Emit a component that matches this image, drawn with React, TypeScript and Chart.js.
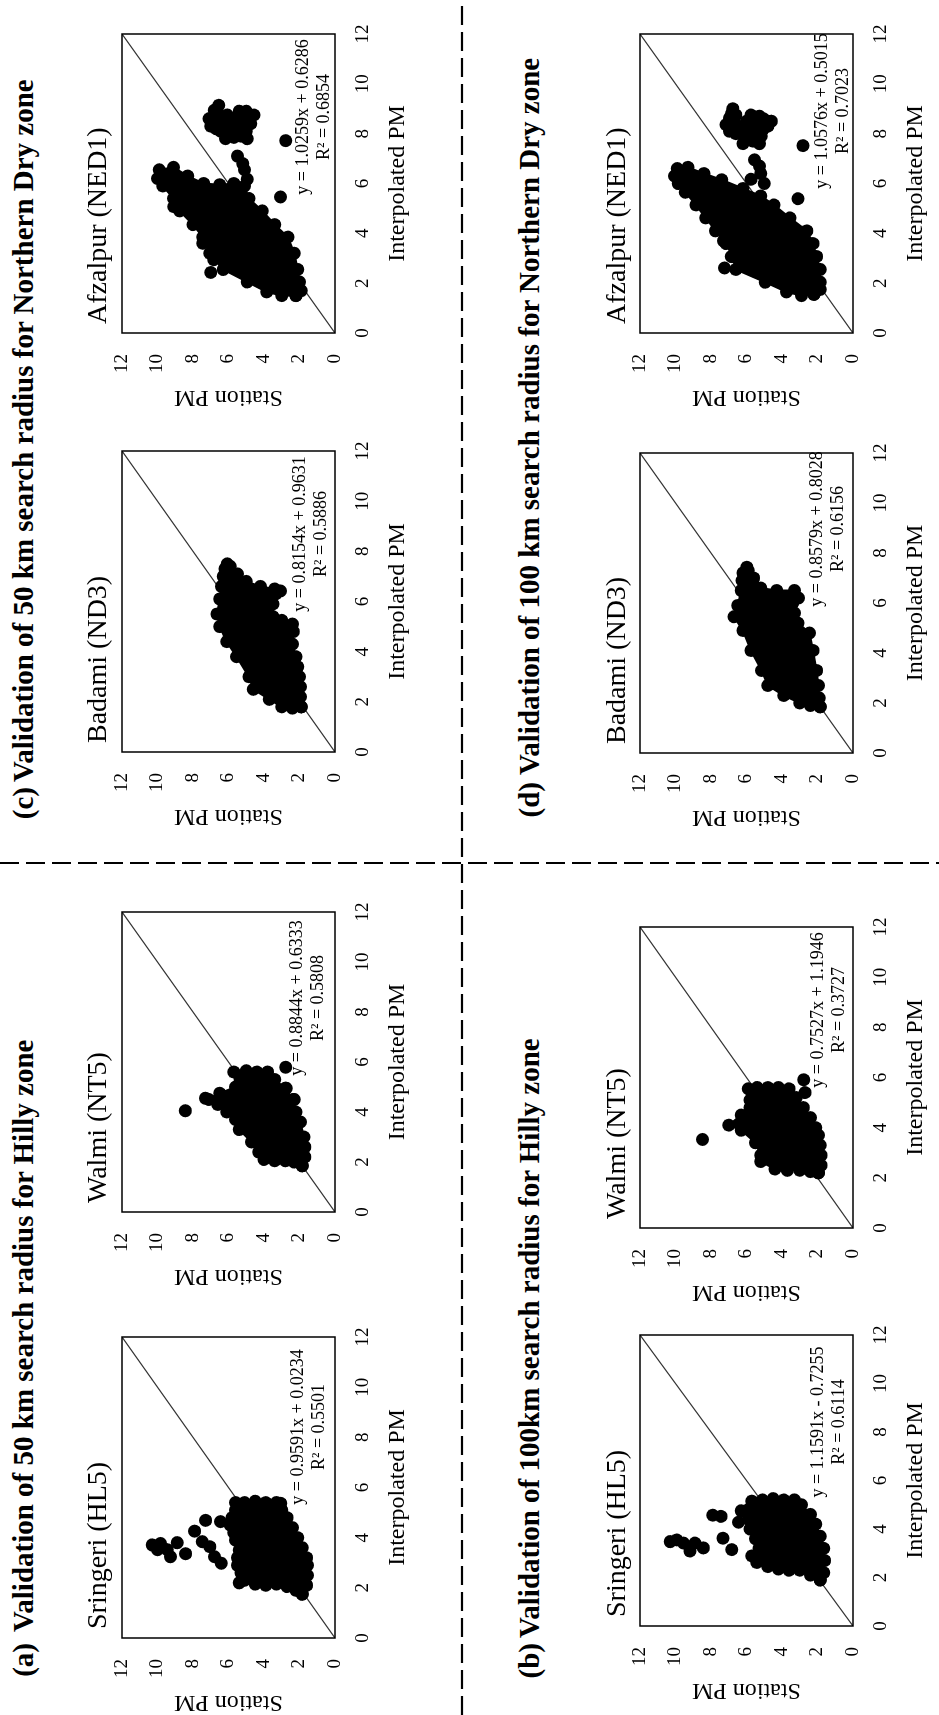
import React, { useEffect, useRef } from "react";
import { Chart, registerables } from "chart.js";

Chart.register(...registerables);

const FONT = '"Liberation Serif", "Times New Roman", serif';

// ---------- data ----------
const tickValues = [0, 2, 4, 6, 8, 10, 12];
const xAxisTitle = "Interpolated PM";
const yAxisTitle = "Station PM";
const oneToOneLine = [[0, 0], [12, 12]];

// (a) 50 km – Sringeri (HL5)
const sringeri50Outline = [[1.75,1.85],[2.1,1.6],[2.5,1.55],[2.9,1.55],[3.2,1.6],[3.6,1.85],[4.0,2.1],[4.4,2.4],[4.8,2.7],[5.1,3.0],[5.4,3.3],[5.4,3.9],[5.45,4.5],[5.4,5.1],[5.4,5.6],[5.1,5.6],[4.8,5.8],[4.5,5.9],[4.2,5.7],[3.9,5.6],[3.5,5.4],[3.2,5.5],[2.9,5.5],[2.6,5.3],[2.3,5.1],[2.15,4.5],[2.1,3.9],[2.15,3.3],[2.05,2.7],[1.9,2.2]];
const sringeri50Points = [[3.71,10.3],[3.52,10.0],[3.77,9.83],[3.52,9.45],[3.24,9.27],[3.8,8.89],[3.36,8.42],[4.26,7.91],[3.84,7.48],[4.69,7.29],[3.64,7.05],[3.24,6.79],[4.64,6.45],[2.98,6.41],[2.2,5.4],[5.37,3.06]];

// (a) 50 km – Walmi (NT5)
const walmi50Outline = [[1.85,1.85],[2.2,1.7],[2.6,1.7],[3.0,1.75],[3.6,1.95],[4.0,2.2],[4.5,2.35],[4.95,2.8],[5.3,3.4],[5.6,3.8],[5.6,4.4],[5.65,5.0],[5.6,5.7],[5.0,5.6],[4.75,6.5],[4.5,7.1],[4.3,6.6],[4.0,6.1],[3.7,5.6],[3.3,5.4],[2.8,4.7],[2.4,4.3],[2.1,4.0],[2.05,3.4],[2.05,2.8],[2.0,2.3]];
const walmi50Points = [[4.05,8.43],[5.79,2.78],[4.5,2.3],[4.95,2.75],[4.55,7.3]];

// (b) 100 km – Sringeri (HL5)
const sringeri100Outline = [[1.9,1.85],[2.2,1.65],[2.7,1.6],[3.2,1.65],[3.7,1.85],[4.2,2.1],[4.6,2.4],[5.0,2.9],[5.2,3.3],[5.2,3.9],[5.25,4.5],[5.2,5.1],[5.15,5.7],[4.8,5.9],[4.4,5.9],[4.0,5.8],[3.6,5.5],[3.2,5.3],[2.8,5.1],[2.45,4.8],[2.35,4.2],[2.3,3.6],[2.3,3.0],[2.1,2.4]];
const sringeri100Points = [[3.48,10.3],[3.55,9.93],[3.42,9.55],[3.09,9.19],[3.42,8.9],[3.22,8.43],[4.57,7.9],[4.52,7.43],[3.62,7.33],[3.15,6.83],[4.28,6.45],[2.89,5.7],[2.62,5.42],[4.75,6.3]];

// (b) 100 km – Walmi (NT5)
const walmi100Outline = [[2.2,1.95],[2.5,1.8],[2.9,1.8],[3.3,1.85],[3.7,1.95],[4.0,2.1],[4.4,2.4],[4.8,2.8],[5.2,3.2],[5.55,3.6],[5.6,4.2],[5.6,4.8],[5.6,5.4],[5.55,5.9],[5.1,5.8],[4.8,5.8],[4.5,6.3],[4.1,7.0],[3.9,6.3],[3.4,5.5],[2.9,5.2],[2.65,5.2],[2.35,4.4],[2.3,3.7],[2.3,3.0],[2.25,2.4]];
const walmi100Points = [[3.53,8.48],[5.91,2.78],[5.4,2.7]];

// (c) 50 km – Badami (ND3)
const badami50Outline = [[1.8,1.9],[2.2,1.95],[2.6,1.95],[3.0,2.0],[3.4,2.1],[3.8,2.2],[4.3,2.4],[4.8,2.35],[5.1,2.4],[5.25,3.0],[5.4,3.5],[5.9,3.5],[6.3,3.35],[6.5,3.4],[6.6,4.2],[6.8,5.0],[7.1,5.5],[7.4,5.9],[7.3,6.2],[7.0,6.3],[6.6,6.4],[6.1,6.5],[5.5,6.65],[5.0,6.5],[4.4,6.1],[3.8,5.55],[3.0,4.85],[2.5,4.6],[2.1,3.7],[1.8,3.0],[1.75,2.4]];
const badami50Points = [[6.42,3.07],[7.5,6.07]];

// (c) 50 km – Afzalpur (NED1)
const afzalpur50Outline = [[1.5,2.2],[1.7,1.9],[2.05,2.0],[2.55,2.1],[3.2,2.3],[3.85,2.65],[4.35,3.4],[4.9,4.1],[5.4,4.85],[5.9,5.1],[6.0,5.7],[5.95,6.5],[6.0,7.4],[6.3,8.3],[6.65,9.1],[6.55,9.9],[6.2,10.0],[5.9,9.7],[5.4,9.1],[4.9,8.75],[4.35,8.0],[3.85,7.45],[3.2,7.05],[2.55,6.3],[2.05,4.95],[1.65,3.85],[1.5,3.0]];
const afzalpur50Points = [[2.43,7.0],[2.94,6.83],[3.6,7.45],[5.07,9.08],[6.17,4.95],[5.46,3.07],[7.72,2.78],[7.1,5.5],[6.8,5.2],[6.55,5.1],[9.14,6.55],[8.94,6.8],[8.6,7.1],[8.3,7.0],[8.4,6.6],[8.1,6.45],[7.8,6.17],[7.85,5.7],[7.9,5.3],[7.8,4.95],[8.1,5.0],[8.4,5.4],[8.6,5.7],[8.35,5.9],[8.8,5.2],[8.6,4.85],[8.75,4.57],[8.9,5.0],[8.75,6.07],[8.8,6.6],[8.5,6.85],[8.2,6.7],[8.5,6.3],[8.05,6.0],[8.2,5.6],[8.0,5.45],[8.3,5.2],[8.5,5.1],[8.7,5.5],[8.9,5.4],[8.4,4.75],[8.6,5.25],[8.2,5.85],[8.55,6.05]];

// (d) 100 km – Badami (ND3)
const badami100Outline = [[1.85,1.85],[2.2,1.9],[2.7,1.95],[3.3,2.05],[4.1,2.25],[4.8,2.45],[5.2,3.1],[5.6,3.3],[6.0,3.4],[6.2,3.07],[6.5,3.3],[6.5,4.3],[6.6,5.2],[7.0,5.6],[7.3,5.9],[7.2,6.2],[6.9,6.25],[6.5,6.3],[5.9,6.5],[5.45,6.7],[4.9,6.2],[4.1,5.75],[3.3,5.15],[2.7,4.8],[2.3,3.9],[2.0,3.0],[1.9,2.4]];
const badami100Points = [[7.43,5.98]];

// (d) 100 km – Afzalpur (NED1)
const afzalpur100Outline = [[1.55,2.2],[1.75,1.85],[2.04,1.85],[2.55,1.85],[3.07,2.05],[3.59,2.25],[4.1,2.6],[4.62,3.55],[5.14,4.45],[5.5,5.2],[5.8,6.2],[6.15,7.4],[6.4,8.4],[6.65,9.3],[6.6,9.9],[6.3,10.05],[6.0,9.85],[5.65,9.45],[5.14,8.85],[4.62,8.3],[4.1,7.75],[3.59,7.15],[3.07,6.8],[2.55,6.6],[2.04,4.95],[1.65,3.75],[1.5,2.9]];
const afzalpur100Points = [[7.52,2.82],[6.95,5.55],[6.7,5.27],[6.4,5.2],[6.0,5.0],[5.39,3.1],[6.17,5.74],[9.0,6.77],[8.62,6.96],[8.36,7.15],[8.1,6.96],[8.23,6.4],[7.9,6.1],[7.6,6.2],[7.7,5.64],[7.6,5.27],[7.9,5.17],[8.17,5.08],[8.5,4.8],[8.5,4.6],[8.55,5.45],[8.75,5.74],[8.7,5.27],[8.5,6.0],[8.75,6.6],[2.61,7.24],[3.07,6.86],[3.7,7.3],[8.8,6.85],[8.5,6.7],[8.3,6.75],[8.0,6.6],[8.05,5.9],[7.8,5.4],[8.1,5.45],[8.3,5.6],[8.35,5.0],[8.3,4.8],[8.6,5.05],[8.3,6.2],[7.85,5.8]];

// regression labels
const sringeri50Eq = ["y = 0.9591x + 0.0234", "R\u00B2 = 0.5501"];
const walmi50Eq = ["y = 0.8844x + 0.6333", "R\u00B2 = 0.5808"];
const sringeri100Eq = ["y = 1.1591x - 0.7255", "R\u00B2 = 0.6114"];
const walmi100Eq = ["y = 0.7527x + 1.1946", "R\u00B2 = 0.3727"];
const badami50Eq = ["y = 0.8154x + 0.9631", "R\u00B2 = 0.5886"];
const afzalpur50Eq = ["y = 1.0259x + 0.6286", "R\u00B2 = 0.6854"];
const badami100Eq = ["y = 0.8579x + 0.8028", "R\u00B2 = 0.6156"];
const afzalpur100Eq = ["y = 1.0576x + 0.5015", "R\u00B2 = 0.7023"];

const headings = [
  { label: "(a)", text: "Validation of 50 km search radius for Hilly zone" },
  { label: "(b)", text: "Validation of 100km search radius for Hilly zone" },
  { label: "(c)", text: "Validation of 50 km search radius for Northern Dry zone" },
  { label: "(d)", text: "Validation of 100 km search radius for Northern Dry zone" },
];

// ---------- layout (unrotated figure, 1715 x 939) ----------
const FIG_W = 1715;
const FIG_H = 939;
const PLOT_H = 213;
const PAD_L = 90;
const PAD_T = 50;
const PAD_R = 15;
const X_AXIS_H = 85;

const panels = [
  { title: "Sringeri (HL5)", eq: sringeri50Eq, outline: sringeri50Outline, points: sringeri50Points, u: 77, v: 122, w: 312, eqX: 211, eqY: 181, titleY: -16 },
  { title: "Walmi (NT5)", eq: walmi50Eq, outline: walmi50Outline, points: walmi50Points, u: 503, v: 122, w: 311, eqX: 214, eqY: 180, titleY: -16 },
  { title: "Sringeri (HL5)", eq: sringeri100Eq, outline: sringeri100Outline, points: sringeri100Points, u: 89, v: 640, w: 302, eqX: 204, eqY: 183, titleY: -15 },
  { title: "Walmi (NT5)", eq: walmi100Eq, outline: walmi100Outline, points: walmi100Points, u: 487, v: 640, w: 312, eqX: 218, eqY: 183, titleY: -15 },
  { title: "Badami (ND3)", eq: badami50Eq, outline: badami50Outline, points: badami50Points, u: 963, v: 122, w: 312, eqX: 218, eqY: 183, titleY: -16 },
  { title: "Afzalpur (NED1)", eq: afzalpur50Eq, outline: afzalpur50Outline, points: afzalpur50Points, u: 1382, v: 122, w: 310, eqX: 216, eqY: 186, titleY: -16 },
  { title: "Badami (ND3)", eq: badami100Eq, outline: badami100Outline, points: badami100Points, u: 962, v: 640, w: 311, eqX: 224, eqY: 182, titleY: -15 },
  { title: "Afzalpur (NED1)", eq: afzalpur100Eq, outline: afzalpur100Outline, points: afzalpur100Points, u: 1382, v: 640, w: 310, eqX: 222, eqY: 187, titleY: -15 },
];

const headingPos = [
  { labelEnd: 72, textStart: 83, top: 6 },
  { labelEnd: 72, textStart: 77, top: 512 },
  { labelEnd: 928, textStart: 933, top: 6 },
  { labelEnd: 933, textStart: 940, top: 512 },
];

const toXY = (arr: number[][]) => arr.map(([x, y]) => ({ x, y }));

function Panel({ cfg }: { cfg: any }) {
  const ref = useRef<HTMLCanvasElement>(null);
  const cw = PAD_L + cfg.w + PAD_R;
  const ch = PAD_T + PLOT_H + X_AXIS_H;

  useEffect(() => {
    const deco = {
      id: "panelDeco",
      afterDraw(chart: any) {
        const { ctx, chartArea: a } = chart;
        ctx.save();
        ctx.strokeStyle = "#000";
        ctx.lineWidth = 1.5;
        ctx.strokeRect(a.left, a.top, a.right - a.left, a.bottom - a.top);
        ctx.fillStyle = "#000";
        ctx.textBaseline = "alphabetic";
        ctx.textAlign = "left";
        ctx.font = `28px ${FONT}`;
        ctx.fillText(cfg.title, a.left + 9, a.top + cfg.titleY);
        ctx.textAlign = "center";
        ctx.font = `18px ${FONT}`;
        ctx.fillText(cfg.eq[0], a.left + cfg.eqX, a.top + cfg.eqY);
        ctx.fillText(cfg.eq[1], a.left + cfg.eqX, a.top + cfg.eqY + 21);
        ctx.restore();
      },
    };
    const outline = toXY(cfg.outline);
    outline.push(outline[0]);
    const chart = new Chart(ref.current!, {
      type: "scatter",
      data: {
        datasets: [
          {
            data: toXY(cfg.points),
            pointRadius: 6.5,
            pointBackgroundColor: "#000",
            pointBorderWidth: 0,
            showLine: false,
          },
          {
            data: outline,
            showLine: true,
            fill: "shape",
            backgroundColor: "#000",
            borderColor: "#000",
            borderWidth: 2,
            tension: 0,
            pointRadius: 6.5,
            pointBackgroundColor: "#000",
            pointBorderWidth: 0,
          },
          {
            data: toXY(oneToOneLine),
            showLine: true,
            fill: false,
            borderColor: "#333",
            borderWidth: 1.2,
            pointRadius: 0,
          },
        ],
      } as any,
      options: {
        responsive: false,
        animation: false,
        devicePixelRatio: 1,
        events: [],
        layout: { padding: { left: 0, top: PAD_T, right: PAD_R, bottom: 0 } },
        plugins: { legend: { display: false }, tooltip: { enabled: false }, title: { display: false } },
        scales: {
          x: {
            type: "linear",
            min: 0,
            max: 12,
            afterFit: (s: any) => { s.height = X_AXIS_H; },
            afterBuildTicks: (s: any) => { s.ticks = tickValues.map((v) => ({ value: v })); },
            ticks: { font: { family: FONT, size: 19 }, color: "#000", padding: 16.5, maxRotation: 0, autoSkip: false },
            grid: { display: false, drawTicks: false },
            border: { display: false },
            title: { display: true, text: xAxisTitle, color: "#000", font: { family: FONT, size: 24 }, padding: { top: 0, bottom: 7.6 } },
          },
          y: {
            type: "linear",
            min: 0,
            max: 12,
            afterFit: (s: any) => { s.width = PAD_L; },
            afterBuildTicks: (s: any) => { s.ticks = tickValues.map((v) => ({ value: v })); },
            ticks: { font: { family: FONT, size: 19 }, color: "#000", padding: 21, autoSkip: false },
            grid: { display: false, drawTicks: false },
            border: { display: false },
            title: { display: true, text: yAxisTitle, color: "#000", font: { family: FONT, size: 24 }, padding: { top: 11.6, bottom: 0 } },
          },
        },
      } as any,
      plugins: [deco],
    });
    return () => chart.destroy();
  }, []);

  return (
    <canvas
      ref={ref}
      width={cw}
      height={ch}
      style={{ position: "absolute", left: cfg.u - PAD_L, top: cfg.v - PAD_T, width: cw, height: ch }}
    />
  );
}

export default function App() {
  return (
    <div style={{ position: "absolute", left: 0, top: 0, width: 939, height: 1715, overflow: "hidden", background: "#fff" }}>
      <div
        style={{
          position: "absolute",
          left: 0,
          top: 0,
          width: FIG_W,
          height: FIG_H,
          transformOrigin: "0 0",
          transform: `translate(0px, ${FIG_W}px) rotate(-90deg)`,
        }}
      >
        <svg width={FIG_W} height={FIG_H} style={{ position: "absolute", left: 0, top: 0 }}>
          <line x1={0} y1={462} x2={FIG_W} y2={462} stroke="#000" strokeWidth={2.2} strokeDasharray="19 7" />
          <line x1={852} y1={0} x2={852} y2={FIG_H} stroke="#000" strokeWidth={2.2} strokeDasharray="19 7" />
        </svg>
        {headings.map((h, i) => {
          const p = headingPos[i];
          const style: any = {
            position: "absolute",
            top: p.top,
            fontFamily: FONT,
            fontWeight: "bold",
            fontSize: 29,
            lineHeight: "34px",
            whiteSpace: "pre",
            color: "#000",
          };
          return (
            <React.Fragment key={i}>
              <div style={{ ...style, right: FIG_W - p.labelEnd }}>{h.label}</div>
              <div style={{ ...style, left: p.textStart }}>{h.text}</div>
            </React.Fragment>
          );
        })}
        {panels.map((p, i) => (
          <Panel key={i} cfg={p} />
        ))}
      </div>
    </div>
  );
}
